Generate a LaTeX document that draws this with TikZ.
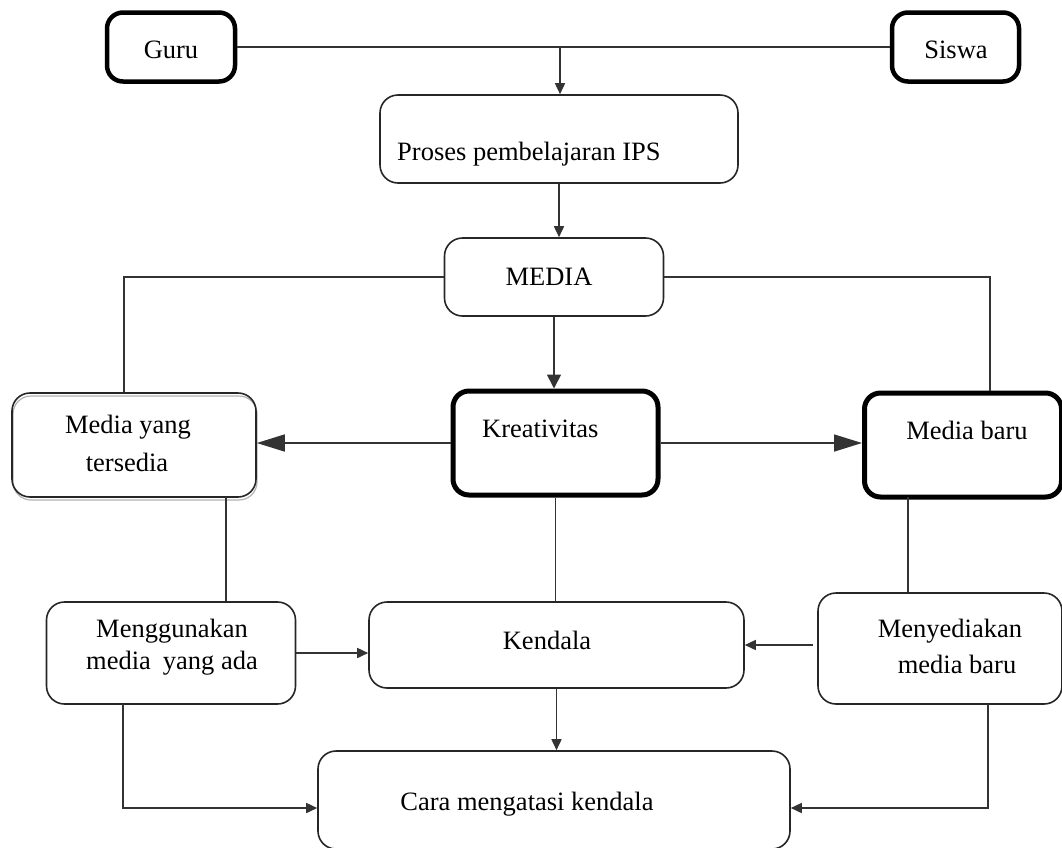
\documentclass[tikz,border=0pt]{standalone}
\usepackage{fontspec}
\setmainfont{Liberation Serif}
\usetikzlibrary{arrows.meta}
\begin{document}
\begin{tikzpicture}[x=1pt,y=-1pt,
  box/.style={draw=black!85, line width=1.6pt, rounded corners=18pt, inner sep=0pt},
  thickbox/.style={draw=black, line width=4.5pt, rounded corners=16pt, inner sep=0pt},
  shadowbox/.style={draw=black!30, line width=1.2pt, rounded corners=18pt, inner sep=0pt},
  txt/.style={font=\fontsize{26.5}{32}\selectfont, inner sep=0pt, anchor=base},
  con/.style={draw=black!80, line width=1.6pt},
  sm/.style={con, -{Triangle[length=11pt,width=10pt]}},
  mid/.style={con, -{Triangle[length=14pt,width=14pt]}},
  big/.style={con, -{Triangle[length=28pt,width=17pt]}},
]
\useasboundingbox (0,0) rectangle (1062,847);

% boxes
\node[thickbox, minimum width=128pt, minimum height=69pt] (guru) at (171,47) {};
\node[thickbox, minimum width=127pt, minimum height=69pt] (siswa) at (955.5,47) {};
\node[box, minimum width=358pt, minimum height=88pt] (proses) at (559,139) {};
\node[box, minimum width=219pt, minimum height=78pt] (media) at (554,277) {};
\node[thickbox, line width=5pt, minimum width=205pt, minimum height=104pt] (kre) at (555.5,443) {};
\node[shadowbox, minimum width=244pt, minimum height=104pt] (mys-sh) at (135,448) {};
\node[box, minimum width=244pt, minimum height=104pt] (mys) at (134,445) {};
\node[thickbox, line width=5pt, minimum width=197pt, minimum height=104pt] (mb) at (963,445) {};
\node[box, minimum width=249pt, minimum height=102pt] (meng) at (171,653) {};
\node[box, minimum width=375pt, minimum height=86pt] (kend) at (556.5,645) {};
\node[box, minimum width=244pt, minimum height=111pt] (meny) at (940,648.5) {};
\node[box, minimum width=472pt, minimum height=98pt] (cara) at (554,800) {};

% texts
\node[txt] (guru-t) at (171,58) {Guru};
\node[txt] (siswa-t) at (956,58) {Siswa};
\node[txt, anchor=base west] (proses-t) at (397,160) {Proses pembelajaran IPS};
\node[txt] (media-t) at (549,285) {MEDIA};
\node[txt, anchor=base west] (kre-t) at (482,437) {Kreativitas};
\node[txt] (mys-t1) at (128,433) {Media yang};
\node[txt] (mys-t2) at (127,471) {tersedia};
\node[txt] (mb-t) at (967,439) {Media baru};
\node[txt] (meng-t1) at (172,637) {Menggunakan};
\node[txt] (meng-t2) at (172,669) {media\hspace{0.2em} yang ada};
\node[txt] (kend-t) at (547,649) {Kendala};
\node[txt] (meny-t1) at (950,637) {Menyediakan};
\node[txt] (meny-t2) at (957,673) {media baru};
\node[txt] (cara-t) at (527,810) {Cara mengatasi kendala};

% helper coordinates
\coordinate (j1) at (560,47);
\coordinate (cL) at (124,277);
\coordinate (cR) at (990,277);
\coordinate (a1) at (226,497);
\coordinate (b1) at (908,497);
\coordinate (m1) at (813,645);
\coordinate (g1) at (123,704);
\coordinate (g2) at (123,808);
\coordinate (h1) at (988,704);
\coordinate (h2) at (988,808);

% connectors
\draw[con] (guru) -- (siswa);
\draw[sm] (j1) -- (j1 |- proses.north);
\draw[sm] (proses.south) -- (proses.south |- media.north);
\draw[mid] (media.south) -- (media.south |- kre.north);
\draw[con] (media.west) -| (cL |- mys.north);
\draw[con] (media.east) -| (cR |- mb.north);
\draw[big] (kre.west) -- (kre.west -| mys.east);
\draw[big] (kre.east) -- (kre.east -| mb.west);
\draw[con] (a1) -- (a1 |- meng.north);
\draw[con] (kre.south) -- (kre.south |- kend.north);
\draw[con] (b1) -- (b1 |- meny.north);
\draw[sm] (meng.east) -- (meng.east -| kend.west);
\draw[sm] (m1) -- (m1 -| kend.east);
\draw[sm] (kend.south) -- (kend.south |- cara.north);
\draw[sm] (g1) -- (g2) -- (g2 -| cara.west);
\draw[sm] (h1) -- (h2) -- (h2 -| cara.east);
\end{tikzpicture}
\end{document}
